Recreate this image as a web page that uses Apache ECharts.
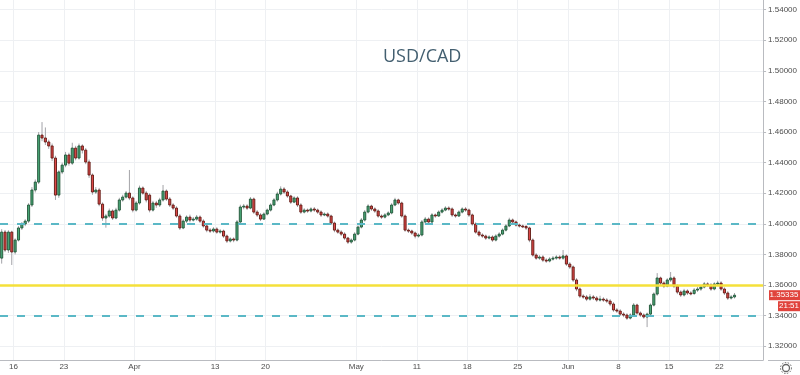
<!DOCTYPE html>
<html><head><meta charset="utf-8">
<script src="https://cdn.jsdelivr.net/npm/echarts@6/dist/echarts.min.js"></script>
<style>html,body{margin:0;padding:0;background:#fff}#c{width:800px;height:375px}</style>
</head><body><div id="c"></div><script>
// ---- data ----
const title = 'USD/CAD';
const firstSession = '03-12 16h';
const daysMar = ['03-13','03-16','03-17','03-18','03-19','03-20','03-23','03-24','03-25','03-26','03-27','03-30','03-31'];
const daysApr = ['04-01','04-02','04-03','04-06','04-07','04-08','04-09','04-10','04-13','04-14','04-15','04-16','04-17','04-20','04-21','04-22','04-23','04-24','04-27','04-28','04-29','04-30'];
const daysMay = ['05-01','05-04','05-05','05-06','05-07','05-08','05-11','05-12','05-13','05-14','05-15','05-18','05-19','05-20','05-21','05-22','05-25','05-26','05-27','05-28','05-29'];
const daysJun = ['06-01','06-02','06-03','06-04','06-05','06-08','06-09','06-10','06-11','06-12','06-15','06-16','06-17','06-18','06-19','06-22','06-23','06-24','06-25','06-26'];
const sessions = ['00h','08h','16h'];
const slotCount = 227;
const tickLabels = {'03-16':'16','03-23':'23','04-01':'Apr','04-13':'13','04-20':'20','05-01':'May','05-11':'11','05-18':'18','05-25':'25','06-01':'Jun','06-08':'8','06-15':'15','06-22':'22'};
const yTicks = [1.32,1.34,1.36,1.38,1.40,1.42,1.44,1.46,1.48,1.50,1.52,1.54];
const yMin = 1.311, yMax = 1.5463;
const yellowLevel = 1.3598;
const dashedLevels = [1.4015, 1.3405];
const timerText = '21:51';

// [open, close, low, high]
const ohlcMar = [
[1.3776,1.3946,1.3740,1.3965],[1.3946,1.3829,1.3815,1.3960],[1.3829,1.3946,1.3810,1.3958],[1.3946,1.3816,1.3731,1.3955],
[1.3816,1.3894,1.3800,1.3905],[1.3894,1.3973,1.3885,1.3985],[1.3973,1.3999,1.3960,1.4012],[1.3999,1.4018,1.3985,1.4030],
[1.4018,1.4123,1.4005,1.4135],[1.4123,1.4221,1.4110,1.4240],[1.4221,1.4273,1.4205,1.4290],[1.4273,1.4580,1.4260,1.4600],
[1.4580,1.4561,1.4540,1.4665],[1.4561,1.4535,1.4515,1.4630],[1.4535,1.4509,1.4490,1.4550],[1.4509,1.4430,1.4410,1.4525],
[1.4430,1.4188,1.4156,1.4445],[1.4188,1.4339,1.4170,1.4350],[1.4339,1.4384,1.4325,1.4400],[1.4384,1.4450,1.4370,1.4470],
[1.4450,1.4397,1.4380,1.4465],[1.4397,1.4495,1.4385,1.4530],[1.4495,1.4430,1.4415,1.4510],[1.4430,1.4509,1.4420,1.4525],
[1.4509,1.4482,1.4460,1.4520],[1.4482,1.4404,1.4390,1.4495],[1.4404,1.4319,1.4300,1.4420],[1.4319,1.4208,1.4190,1.4330],
[1.4208,1.4221,1.4195,1.4240],[1.4221,1.4129,1.4115,1.4235],[1.4129,1.4038,1.4020,1.4140],[1.4038,1.4051,1.3975,1.4065],
[1.4051,1.4084,1.4040,1.4100],[1.4084,1.4038,1.4025,1.4095],[1.4038,1.4090,1.4030,1.4105],[1.4090,1.4156,1.4080,1.4170],
[1.4156,1.4175,1.4145,1.4190],[1.4175,1.4201,1.4165,1.4215],[1.4201,1.4169,1.4155,1.4352],[1.4169,1.4090,1.4075,1.4180]
];
const ohlcApr = [
[1.4090,1.4136,1.4080,1.4150],[1.4136,1.4234,1.4125,1.4250],[1.4234,1.4201,1.4190,1.4245],[1.4201,1.4156,1.4140,1.4215],
[1.4188,1.4090,1.4075,1.4200],[1.4090,1.4136,1.4080,1.4150],[1.4136,1.4123,1.4105,1.4150],[1.4123,1.4156,1.4110,1.4170],
[1.4156,1.4214,1.4145,1.4254],[1.4214,1.4162,1.4150,1.4225],[1.4162,1.4123,1.4110,1.4175],[1.4123,1.4103,1.4090,1.4135],
[1.4103,1.4051,1.4040,1.4115],[1.4051,1.3973,1.3960,1.4065],[1.3973,1.4018,1.3965,1.4030],[1.4018,1.4044,1.4005,1.4055],
[1.4044,1.4025,1.4010,1.4060],[1.4025,1.4031,1.4015,1.4045],[1.4031,1.4044,1.4020,1.4058],[1.4044,1.4018,1.4005,1.4055],
[1.4018,1.3986,1.3975,1.4030],[1.3986,1.3959,1.3945,1.3995],[1.3959,1.3953,1.3940,1.3972],[1.3953,1.3966,1.3942,1.3978],
[1.3966,1.3946,1.3935,1.3978],[1.3946,1.3953,1.3935,1.3965],[1.3953,1.3920,1.3908,1.3962],[1.3920,1.3888,1.3875,1.3930],
[1.3888,1.3901,1.3878,1.3912],[1.3901,1.3894,1.3880,1.3912],[1.3894,1.4012,1.3885,1.4025],[1.4012,1.4110,1.4000,1.4125],
[1.4110,1.4116,1.4095,1.4130],[1.4116,1.4103,1.4090,1.4128],[1.4103,1.4162,1.4095,1.4175],[1.4162,1.4077,1.4065,1.4172],
[1.4077,1.4058,1.4045,1.4090],[1.4058,1.4031,1.4018,1.4070],[1.4031,1.4064,1.4025,1.4075],[1.4064,1.4090,1.4055,1.4100],
[1.4090,1.4123,1.4080,1.4135],[1.4123,1.4156,1.4115,1.4168],[1.4156,1.4195,1.4145,1.4210],[1.4195,1.4227,1.4185,1.4245],
[1.4227,1.4208,1.4195,1.4240],[1.4208,1.4182,1.4170,1.4220],[1.4182,1.4142,1.4130,1.4190],[1.4142,1.4169,1.4135,1.4180],
[1.4169,1.4123,1.4110,1.4180],[1.4123,1.4077,1.4065,1.4135],[1.4077,1.4090,1.4068,1.4102],[1.4090,1.4084,1.4072,1.4100],
[1.4084,1.4097,1.4075,1.4108],[1.4097,1.4090,1.4078,1.4110],[1.4090,1.4077,1.4065,1.4100],[1.4077,1.4058,1.4045,1.4088],
[1.4058,1.4064,1.4050,1.4075],[1.4064,1.4051,1.4040,1.4075],[1.4051,1.4005,1.3992,1.4060],[1.4005,1.3959,1.3945,1.4015],
[1.3959,1.3946,1.3935,1.3970],[1.3946,1.3933,1.3920,1.3958],[1.3933,1.3907,1.3895,1.3945],[1.3907,1.3881,1.3868,1.3915],
[1.3881,1.3894,1.3870,1.3905],[1.3894,1.3933,1.3885,1.3945]
];
const ohlcMay = [
[1.3933,1.3979,1.3925,1.3990],[1.3979,1.4025,1.3970,1.4038],[1.4025,1.4077,1.4015,1.4090],[1.4077,1.4116,1.4068,1.4128],
[1.4116,1.4097,1.4085,1.4125],[1.4097,1.4084,1.4072,1.4108],[1.4084,1.4051,1.4040,1.4095],[1.4051,1.4044,1.4032,1.4062],
[1.4044,1.4058,1.4035,1.4070],[1.4058,1.4071,1.4050,1.4082],[1.4071,1.4123,1.4062,1.4135],[1.4123,1.4156,1.4115,1.4170],
[1.4156,1.4136,1.4125,1.4165],[1.4136,1.4051,1.4040,1.4145],[1.4051,1.3959,1.3948,1.4062],[1.3959,1.3953,1.3940,1.3970],
[1.3953,1.3940,1.3928,1.3962],[1.3940,1.3920,1.3905,1.3950],[1.3920,1.3927,1.3910,1.3938],[1.3927,1.4012,1.3918,1.4025],
[1.4012,1.4031,1.4000,1.4045],[1.4031,1.4012,1.4000,1.4042],[1.4012,1.4058,1.4005,1.4070],[1.4058,1.4051,1.4040,1.4068],
[1.4051,1.4077,1.4045,1.4088],[1.4077,1.4090,1.4068,1.4102],[1.4090,1.4103,1.4082,1.4115],[1.4103,1.4097,1.4085,1.4115],
[1.4097,1.4058,1.4045,1.4108],[1.4058,1.4051,1.4040,1.4068],[1.4051,1.4077,1.4045,1.4088],[1.4077,1.4097,1.4068,1.4108],
[1.4097,1.4090,1.4078,1.4110],[1.4090,1.4058,1.4045,1.4100],[1.4058,1.3999,1.3988,1.4068],[1.3999,1.3946,1.3935,1.4010],
[1.3946,1.3927,1.3915,1.3958],[1.3927,1.3920,1.3908,1.3938],[1.3920,1.3907,1.3895,1.3930],[1.3907,1.3914,1.3898,1.3925],
[1.3914,1.3894,1.3882,1.3925],[1.3894,1.3920,1.3885,1.3932],[1.3920,1.3933,1.3910,1.3945],[1.3933,1.3959,1.3925,1.3970],
[1.3959,1.3986,1.3950,1.3998],[1.3986,1.4025,1.3978,1.4040],[1.4025,1.4012,1.4000,1.4035],[1.4012,1.3992,1.3982,1.4022],
[1.3992,1.3986,1.3975,1.4002],[1.3986,1.3983,1.3972,1.3995],[1.3983,1.3973,1.3960,1.3992],[1.3973,1.3894,1.3880,1.3982],
[1.3894,1.3796,1.3785,1.3905],[1.3796,1.3776,1.3765,1.3808],[1.3776,1.3783,1.3765,1.3795],[1.3783,1.3763,1.3750,1.3795],
[1.3763,1.3757,1.3745,1.3775],[1.3757,1.3770,1.3748,1.3782],[1.3770,1.3776,1.3760,1.3790],[1.3776,1.3783,1.3765,1.3795],
[1.3783,1.3776,1.3765,1.3795],[1.3776,1.3790,1.3765,1.3829],[1.3790,1.3737,1.3725,1.3800]
];
const ohlcJun = [
[1.3737,1.3718,1.3705,1.3750],[1.3718,1.3633,1.3620,1.3728],[1.3633,1.3574,1.3560,1.3645],[1.3574,1.3528,1.3515,1.3585],
[1.3528,1.3522,1.3510,1.3540],[1.3522,1.3508,1.3495,1.3535],[1.3508,1.3522,1.3498,1.3540],[1.3522,1.3515,1.3502,1.3535],
[1.3515,1.3502,1.3490,1.3528],[1.3502,1.3508,1.3492,1.3530],[1.3508,1.3502,1.3490,1.3520],[1.3502,1.3495,1.3482,1.3515],
[1.3495,1.3476,1.3462,1.3508],[1.3476,1.3437,1.3425,1.3488],[1.3437,1.3430,1.3418,1.3450],[1.3430,1.3410,1.3398,1.3442],
[1.3410,1.3404,1.3390,1.3422],[1.3404,1.3384,1.3372,1.3415],[1.3384,1.3404,1.3375,1.3415],[1.3404,1.3469,1.3395,1.3482],
[1.3469,1.3417,1.3405,1.3478],[1.3417,1.3404,1.3392,1.3428],[1.3404,1.3391,1.3380,1.3415],[1.3391,1.3410,1.3325,1.3420],
[1.3410,1.3469,1.3400,1.3480],[1.3469,1.3541,1.3460,1.3552],[1.3541,1.3646,1.3530,1.3678],[1.3646,1.3613,1.3600,1.3655],
[1.3613,1.3593,1.3580,1.3625],[1.3593,1.3633,1.3585,1.3645],[1.3633,1.3646,1.3620,1.3685],[1.3646,1.3593,1.3580,1.3658],
[1.3593,1.3554,1.3540,1.3605],[1.3554,1.3535,1.3522,1.3565],[1.3535,1.3561,1.3525,1.3575],[1.3561,1.3548,1.3535,1.3572],
[1.3548,1.3545,1.3532,1.3560],[1.3545,1.3567,1.3535,1.3580],[1.3567,1.3574,1.3555,1.3588],[1.3574,1.3587,1.3562,1.3600],
[1.3587,1.3607,1.3578,1.3620],[1.3607,1.3600,1.3588,1.3618],[1.3600,1.3574,1.3562,1.3612],[1.3574,1.3607,1.3565,1.3618],
[1.3607,1.3613,1.3595,1.3628],[1.3613,1.3574,1.3562,1.3625],[1.3574,1.3548,1.3535,1.3585],[1.3548,1.3515,1.3502,1.3560],
[1.3515,1.3522,1.3505,1.3535],[1.3522,1.35335,1.3512,1.3548]
];

// ---- build ----
const days = daysMar.concat(daysApr, daysMay, daysJun);
const categories = [firstSession];
const labelIdx = {};
days.forEach(d => sessions.forEach((s, k) => {
  if (k === 0 && tickLabels[d]) labelIdx[categories.length] = tickLabels[d];
  categories.push(d + ' ' + s);
}));
categories.length = slotCount;
const ohlc = ohlcMar.concat(ohlcApr, ohlcMay, ohlcJun);
const seriesData = ohlc.map((r, i) => [i, r[0], r[1], r[2], r[3]]);
const lastClose = ohlc[ohlc.length - 1][1];

const UP = '#4aa878', UPB = '#1f5236', DN = '#de4848', DNB = '#5e1812', WICK = '#a3a3a8';
const AXC = '#b9bbc0', GRIDC = '#eef0f3', TXT = '#4d4d4d';

const chart = echarts.init(document.getElementById('c'), null, {renderer: 'canvas'});
chart.setOption({
  animation: false,
  backgroundColor: '#ffffff',
  title: {text: title, left: 383, top: 48, padding: 0, textStyle: {fontFamily: 'Open Sans', fontSize: 18, fontWeight: 'normal', color: '#435f70'}},
  grid: {left: 0, right: 32, top: 0, bottom: 15, containLabel: false},
  xAxis: {
    type: 'category', data: categories, boundaryGap: true,
    axisLine: {show: true, lineStyle: {color: AXC}},
    axisTick: {show: false},
    axisLabel: {
      interval: (i) => labelIdx[i] !== undefined,
      formatter: (v, i) => labelIdx[i] || '',
      fontSize: 8, color: TXT, margin: 3, fontFamily: 'Liberation Sans',
      padding: [0, 3.4, 0, 0]
    },
    splitLine: {show: true, interval: (i) => labelIdx[i] !== undefined, lineStyle: {color: GRIDC, width: 1}}
  },
  yAxis: {
    type: 'value', position: 'right', min: yMin, max: yMax, scale: true,
    axisLine: {show: true, lineStyle: {color: AXC}},
    axisTick: {show: true, length: 3, customValues: yTicks, lineStyle: {color: AXC}},
    axisLabel: {customValues: yTicks, formatter: v => v.toFixed(5), fontSize: 8, color: TXT, margin: 5, fontFamily: 'Liberation Sans'},
    splitLine: {show: true, lineStyle: {color: GRIDC, width: 1}}
  },
  series: [{
    type: 'custom',
    data: seriesData,
    encode: {x: 0, y: [1, 2, 3, 4]},
    clip: true,
    renderItem: function (params, api) {
      const i = api.value(0), o = api.value(1), c = api.value(2), l = api.value(3), h = api.value(4);
      const pO = api.coord([i, o]), pC = api.coord([i, c]), pL = api.coord([i, l]), pH = api.coord([i, h]);
      const w = api.size([1, 0])[0] * 0.62;
      const up = c >= o;
      const top = Math.min(pO[1], pC[1]), bot = Math.max(pO[1], pC[1]);
      return {type: 'group', children: [
        {type: 'line', shape: {x1: pL[0], y1: pL[1], x2: pH[0], y2: pH[1]}, style: {stroke: WICK, lineWidth: 1}},
        {type: 'rect', shape: {x: pO[0] - w / 2, y: top, width: w, height: Math.max(bot - top, 1)},
         style: {fill: up ? UP : DN, stroke: up ? UPB : DNB, lineWidth: 0.9}}
      ]};
    },
    markLine: {
      silent: true, symbol: ['none', 'none'], label: {show: false}, animation: false,
      data: [
        {yAxis: yellowLevel, lineStyle: {color: '#f5e03a', width: 2.5, type: 'solid'}},
        {yAxis: dashedLevels[0], lineStyle: {color: '#5bb8c6', width: 2, type: [8, 9]}},
        {yAxis: dashedLevels[1], lineStyle: {color: '#5bb8c6', width: 2, type: [8, 9]}}
      ]
    }
  }]
});

// price tag and timer, placed from the last close through the axis scale
const py = chart.convertToPixel({yAxisIndex: 0}, lastClose);
const gx = 768;
chart.setOption({graphic: [
  {type: 'line', shape: {x1: gx, y1: 360.5, x2: 800, y2: 360.5}, style: {stroke: AXC, lineWidth: 1}},
  {type: 'rect', shape: {x: gx + 1, y: py - 5, width: 31, height: 10}, style: {fill: '#e0433c'}},
  {type: 'text', x: gx + 16, y: py, style: {text: lastClose.toFixed(5), fill: '#fff', fontSize: 8, fontFamily: 'Liberation Sans', align: 'center', verticalAlign: 'middle'}},
  {type: 'rect', shape: {x: gx + 10, y: py + 6, width: 22, height: 10}, style: {fill: '#e0433c'}},
  {type: 'text', x: gx + 21, y: py + 11, style: {text: timerText, fill: '#fff', fontSize: 8, fontFamily: 'Liberation Sans', align: 'center', verticalAlign: 'middle'}},
  {type: 'circle', shape: {cx: 786, cy: 368, r: 3.5}, style: {fill: 'none', stroke: '#666', lineWidth: 1.3}},
  {type: 'circle', shape: {cx: 786, cy: 368, r: 5.5}, style: {fill: 'none', stroke: '#666', lineWidth: 1, lineDash: [1.5, 1.5]}}
]});
</script></body></html>
